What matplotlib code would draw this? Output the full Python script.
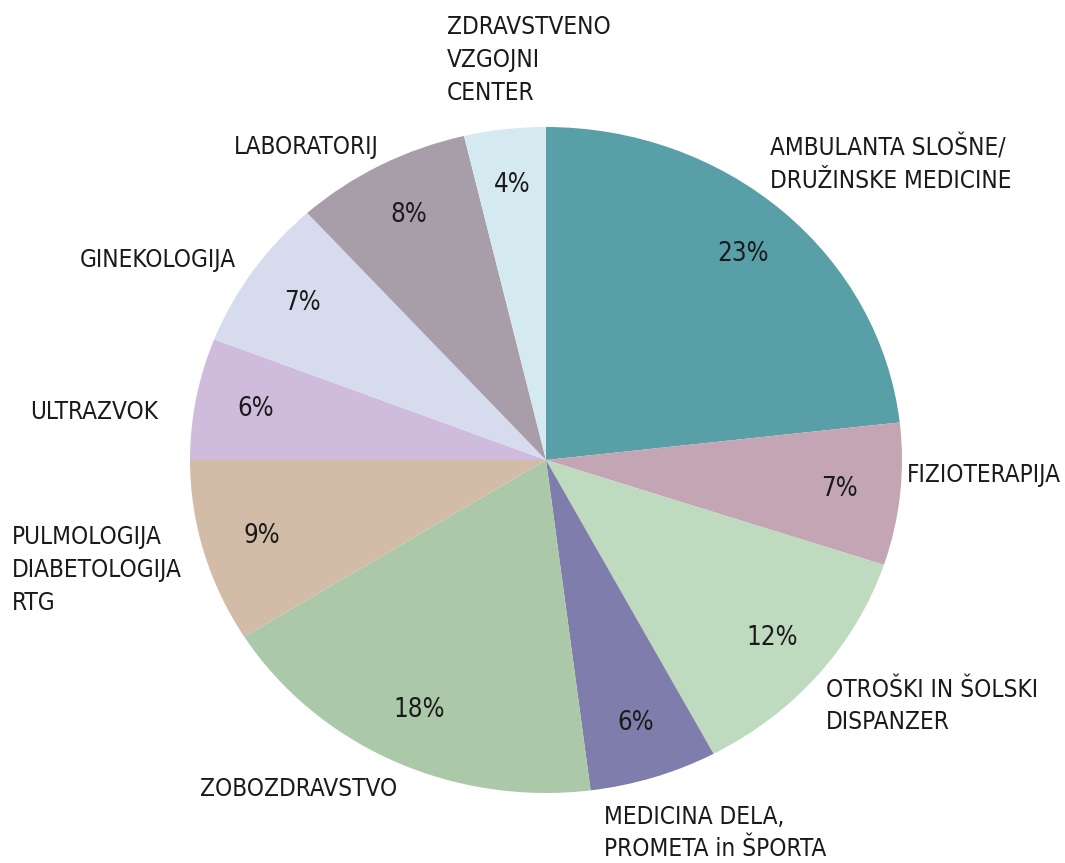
import matplotlib
matplotlib.use('Agg')
import matplotlib.pyplot as plt

plt.rcParams['font.family'] = ['DejaVu Sans']
plt.rcParams['font.stretch'] = 'condensed'

# podatki
kategorije = ['AMBULANTA SLOŠNE/\nDRUŽINSKE MEDICINE', 'FIZIOTERAPIJA',
              'OTROŠKI IN ŠOLSKI\nDISPANZER', 'MEDICINA DELA,\nPROMETA in ŠPORTA',
              'ZOBOZDRAVSTVO', 'PULMOLOGIJA\nDIABETOLOGIJA\nRTG', 'ULTRAZVOK',
              'GINEKOLOGIJA', 'LABORATORIJ', 'ZDRAVSTVENO\nVZGOJNI\nCENTER']
deleži = [23.2, 6.9, 12.1, 5.8, 18.1, 8.9, 5.9, 7.4, 8.0, 3.7]
barve = ['#589fa8', '#c4a5b3', '#bedbbf', '#7f7dab', '#abc9a9',
         '#d2bca8', '#cfbcdd', '#d6dcee', '#a89ea9', '#d5eaf0']

# položaji oznak (piksli, levi rob, sredina)
pos_px = [(770, 164), (907, 475), (826, 706), (604, 833), (200, 789),
          (12, 570), (30, 412), (80, 260), (234, 147), (447, 60)]

W, H = 1065, 863
cx, cy, Rx, Ry = 546, 460, 356, 333

fig = plt.figure(figsize=(W / 100, H / 100), dpi=100)
ax = fig.add_axes([0, 0, 1, 1])
ax.pie(deleži, colors=barve, startangle=90, counterclock=False, radius=1,
       autopct=lambda p: f'{p:.0f}%', pctdistance=0.83,
       textprops={'fontsize': 18.5, 'color': '#1a1a1a'},
       wedgeprops={'linewidth': 0})
ax.set_xlim(-cx / Rx, (W - cx) / Rx)
ax.set_ylim(-(H - cy) / Ry, cy / Ry)
ax.set_aspect('auto')
ax.axis('off')

for lab, (px, py) in zip(kategorije, pos_px):
    ax.text((px - cx) / Rx, (cy - py) / Ry, lab, ha='left', va='center',
            fontsize=17.5, color='#1a1a1a', linespacing=1.45)

fig.savefig('out.png', dpi=100, facecolor='white')
